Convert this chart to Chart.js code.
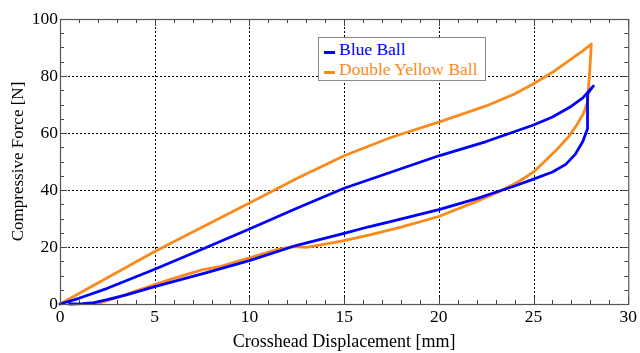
<!DOCTYPE html>
<html>
<head>
<meta charset="utf-8">
<script src="https://cdn.jsdelivr.net/npm/chart.js@4/dist/chart.umd.min.js"></script>
<style>
  html, body { margin: 0; padding: 0; background: #fff; }
  #wrap { position: relative; width: 640px; height: 353px; }
  #legend {
    position: absolute; left: 318px; top: 37px; width: 166px; height: 42px;
    border: 1.5px solid #8a8a8a; background: #fff;
    font-family: "Liberation Serif", "Times New Roman", serif; font-size: 17.5px;
  }
  .item { position: absolute; left: 5px; white-space: nowrap; line-height: 20px; }
  .sw { display: inline-block; width: 11px; height: 3px; vertical-align: middle; margin-right: 4px; position: relative; top: 2px; }
</style>
</head>
<body>
<div id="wrap">
  <canvas id="c" width="640" height="353"></canvas>
  <div id="legend">
    <div class="item" style="top:1px;color:#0000ff"><span class="sw" style="background:#0000ff"></span>Blue Ball</div>
    <div class="item" style="top:21px;color:#fb8a1c"><span class="sw" style="background:#fb8a1c"></span>Double Yellow Ball</div>
  </div>
</div>
<script>
// ---- data ----
const seriesNames = ["Blue Ball", "Double Yellow Ball"];

// Blue Ball: loading then unloading (displacement mm, force N)
const blueX = [0, 1, 2.5, 5, 7.5, 10, 12.5, 15, 17.5, 20, 22.5, 25, 26, 27, 27.6, 28.16,
               27.85, 27.85, 27.6, 27.2, 26.7, 26, 25, 24, 23, 22, 20, 17.5, 16.3, 15, 12.5, 10, 7.5, 5, 3.5, 2.5, 1.8, 1.2, 0.5];
const blueY = [0, 2, 5.5, 12.2, 19.2, 26.3, 33.6, 40.6, 46.3, 52, 57, 62.8, 65.6, 69.4, 72.3, 76.5,
               73.8, 61.5, 57, 52.5, 49, 46.3, 43.8, 41.4, 39.2, 37, 33.1, 29, 27.1, 24.8, 20.6, 15.2, 10.6, 6.1, 3.2, 1.5, 0.5, 0.1, 0];

// Double Yellow Ball: loading then unloading
const orangeX = [0, 2.5, 5, 7.5, 10, 12.5, 15, 17.5, 20, 22.5, 24, 25, 26, 27, 27.6, 28.05,
                 27.95, 27.85, 27.65, 27.3, 26.85, 26.2, 25.5, 25, 24.2, 23.2, 22, 20, 18, 17, 16.3, 15, 14, 13, 12.3, 11.5, 10, 8.5, 7.5, 6, 5, 4, 3, 1.9];
const orangeY = [0, 9.2, 18.4, 26.9, 35.4, 44, 52, 58.5, 63.8, 69.5, 73.7, 77.3, 81.3, 86, 88.8, 91.2,
                 80, 71, 67, 63, 58.7, 54, 49.5, 46.3, 42.9, 39.5, 36, 30.7, 27, 25.3, 24.2, 22.2, 21, 19.9, 20.1, 19.2, 16.2, 13.2, 12, 9, 6.8, 4.5, 2.2, 0];

const xTicks = [0, 5, 10, 15, 20, 25, 30];
const yTicks = [0, 20, 40, 60, 80, 100];
const xTitle = "Crosshead Displacement [mm]";
const yTitle = "Compressive Force [N]";

const toPts = (xs, ys) => xs.map((x, i) => ({ x: x, y: ys[i] }));

const frame = {
  id: 'frame',
  beforeDatasetsDraw(chart) {
    const { ctx, chartArea: a, scales: { x, y } } = chart;
    ctx.save();
    ctx.strokeStyle = '#000';
    ctx.lineWidth = 1;
    ctx.setLineDash([2, 2]);
    xTicks.slice(1, -1).forEach(v => {
      const px = Math.round(x.getPixelForValue(v)) + 0.5;
      ctx.beginPath(); ctx.moveTo(px, a.top); ctx.lineTo(px, a.bottom); ctx.stroke();
    });
    yTicks.slice(1, -1).forEach(v => {
      const py = Math.round(y.getPixelForValue(v)) + 0.5;
      ctx.beginPath(); ctx.moveTo(a.left, py); ctx.lineTo(a.right, py); ctx.stroke();
    });
    ctx.setLineDash([]);
    ctx.strokeStyle = '#444';
    ctx.lineWidth = 1;
    for (let v = 0; v <= 30; v += 1) {
      const px = Math.round(x.getPixelForValue(v)) + 0.5;
      const len = (v % 5 === 0) ? 7 : 4;
      ctx.beginPath();
      ctx.moveTo(px, a.bottom); ctx.lineTo(px, a.bottom - len);
      ctx.moveTo(px, a.top); ctx.lineTo(px, a.top + len);
      ctx.stroke();
    }
    for (let v = 0; v <= 100; v += 5) {
      const py = Math.round(y.getPixelForValue(v)) + 0.5;
      const len = (v % 20 === 0) ? 7 : 4;
      ctx.beginPath();
      ctx.moveTo(a.left, py); ctx.lineTo(a.left + len, py);
      ctx.moveTo(a.right, py); ctx.lineTo(a.right - len, py);
      ctx.stroke();
    }
    ctx.restore();
  },
  afterDatasetsDraw(chart) {
    const { ctx, chartArea: a } = chart;
    ctx.save();
    ctx.strokeStyle = '#555';
    ctx.lineWidth = 1.2;
    ctx.strokeRect(a.left + 0.5, a.top + 0.5, a.right - a.left, a.bottom - a.top);
    ctx.restore();
  }
};

new Chart(document.getElementById('c'), {
  type: 'scatter',
  data: {
    datasets: [
      { label: seriesNames[0], data: toPts(blueX, blueY), showLine: true, borderColor: '#0000ff',
        borderWidth: 2.8, pointRadius: 0, tension: 0, borderJoinStyle: 'round', borderCapStyle: 'round' },
      { label: seriesNames[1], data: toPts(orangeX, orangeY), showLine: true, borderColor: '#fb8a1c',
        borderWidth: 2.8, pointRadius: 0, tension: 0, borderJoinStyle: 'round', borderCapStyle: 'round' }
    ]
  },
  options: {
    responsive: false,
    animation: false,
    events: [],
    clip: false,
    layout: { padding: { top: 19, right: 10, left: 0, bottom: 0 } },
    plugins: { legend: { display: false }, tooltip: { enabled: false } },
    scales: {
      x: {
        type: 'linear', min: 0, max: 30,
        afterBuildTicks: s => { s.ticks = xTicks.map(v => ({ value: v })); },
        afterFit: s => { s.height = 49; },
        grid: { display: false, drawTicks: false },
        border: { display: false },
        ticks: { padding: 3, color: '#000', font: { family: 'Liberation Serif', size: 17.5 }, maxRotation: 0 },
        title: { display: true, text: xTitle, color: '#000', font: { family: 'Liberation Serif', size: 18 }, padding: { top: 0, bottom: 0 } }
      },
      y: {
        type: 'linear', min: 0, max: 100,
        afterBuildTicks: s => { s.ticks = yTicks.map(v => ({ value: v })); },
        afterFit: s => { s.width = 60; },
        grid: { display: false, drawTicks: false },
        border: { display: false },
        ticks: { padding: 2, color: '#000', font: { family: 'Liberation Serif', size: 17.5 } },
        title: { display: true, text: yTitle, color: '#000', font: { family: 'Liberation Serif', size: 17 }, padding: { top: 8, bottom: 0 } }
      }
    }
  },
  plugins: [frame]
});
</script>
</body>
</html>
